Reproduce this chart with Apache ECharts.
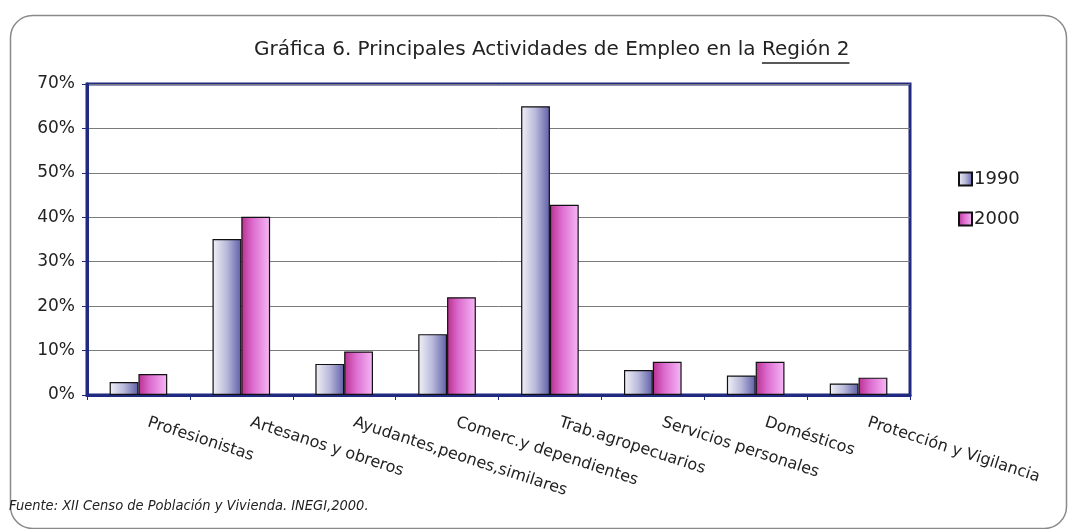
<!DOCTYPE html>
<html>
<head>
<meta charset="utf-8">
<script src="https://cdn.jsdelivr.net/npm/echarts@6/dist/echarts.min.js"></script>
<style>
html,body{margin:0;padding:0;background:#fff;}
#c{width:1070px;height:529px;}
</style>
</head>
<body>
<div id="c"></div>
<script>
const categories = ['Profesionistas','Artesanos y obreros','Ayudantes,peones,similares','Comerc.y dependientes','Trab.agropecuarios','Servicios personales','Domésticos','Protección y Vigilancia'];
const series1990 = [2.9, 35.1, 7.0, 13.7, 65.0, 5.6, 4.4, 2.6];
const series2000 = [4.7, 40.1, 9.8, 22.0, 42.8, 7.5, 7.5, 3.9];
const yTicks = [0, 10, 20, 30, 40, 50, 60, 70];
const titleMain = 'Gráfica 6. Principales Actividades de Empleo en la ';
const titleRegion = 'Región 2';
const source = 'Fuente: XII Censo de Población y Vivienda. INEGI,2000.';

const font = 'DejaVu Sans';
const titleSize = 20;
const titleTop = 40;
const mctx = document.createElement('canvas').getContext('2d');
mctx.font = titleSize + 'px "' + font + '"';
const wMain = mctx.measureText(titleMain).width;
const wRegion = mctx.measureText(titleRegion).width;
const titleLeft = Math.round(552 - (wMain + wRegion) / 2);

const chart = echarts.init(document.getElementById('c'));
const grad1990 = new echarts.graphic.LinearGradient(0, 0, 1, 0, [
  {offset: 0, color: '#f2f2f8'},
  {offset: 0.5, color: '#b8b8da'},
  {offset: 1, color: '#5e5ea8'}
]);
const grad2000 = new echarts.graphic.LinearGradient(0, 0, 1, 0, [
  {offset: 0, color: '#b8308f'},
  {offset: 0.4, color: '#dc6ccf'},
  {offset: 1, color: '#f6b8f6'}
]);
chart.setOption({
  animation: false,
  backgroundColor: '#fff',
  legend: {
    orient: 'vertical',
    left: 953, top: 165,
    itemWidth: 13, itemHeight: 13, itemGap: 22,
    icon: 'rect',
    textStyle: {fontFamily: font, fontSize: 18, color: '#222', padding: [0,0,0,-3]},
    data: ['1990', '2000']
  },
  grid: {left: 87, top: 84, right: 160, bottom: 134, show: true, borderColor: '#1f2a80', borderWidth: 3},
  xAxis: {
    type: 'category',
    data: categories,
    axisLine: {lineStyle: {color: '#1f2a80', width: 3}},
    axisTick: {show: true, length: 5, lineStyle: {color: '#1f2a80', width: 1}},
    axisLabel: {rotate: -18, fontFamily: font, fontSize: 16, color: '#222', margin: 24, padding: [0, 0, 0, 10], interval: 0}
  },
  yAxis: {
    type: 'value', min: 0, max: 70, interval: 10,
    axisLine: {show: true, lineStyle: {color: '#1f2a80', width: 3}},
    axisTick: {show: true, length: 5, lineStyle: {color: '#1f2a80', width: 1}},
    splitLine: {lineStyle: {color: '#7a7a7a', width: 1}},
    axisLabel: {formatter: v => v + '%', fontFamily: font, fontSize: 17, color: '#222', margin: 12}
  },
  series: [
    {name: '1990', type: 'bar', data: series1990, barGap: '0%', barCategoryGap: '44%',
     itemStyle: {color: grad1990, borderColor: '#111', borderWidth: 1.2}},
    {name: '2000', type: 'bar', data: series2000,
     itemStyle: {color: grad2000, borderColor: '#111', borderWidth: 1.2}}
  ],
  graphic: [
    {type: 'rect', left: 8, top: 13, z: -1, silent: true,
     shape: {width: 1056, height: 513, r: 22},
     style: {fill: 'none', stroke: '#8a8a8a', lineWidth: 1.5}},
    {type: 'text', left: titleLeft, top: titleTop,
     style: {text: titleMain + titleRegion, fontFamily: font, fontSize: titleSize, fill: '#222'}},
    {type: 'line', silent: true,
     shape: {x1: titleLeft + wMain, y1: titleTop + titleSize + 3, x2: titleLeft + wMain + wRegion, y2: titleTop + titleSize + 3},
     style: {stroke: '#222', lineWidth: 1.5}},
    {type: 'text', left: 9, top: 499,
     style: {text: source, fontFamily: 'DejaVu Sans Condensed', fontStyle: 'italic', fontSize: 14.5, fill: '#222'}}
  ]
});
</script>
</body>
</html>
